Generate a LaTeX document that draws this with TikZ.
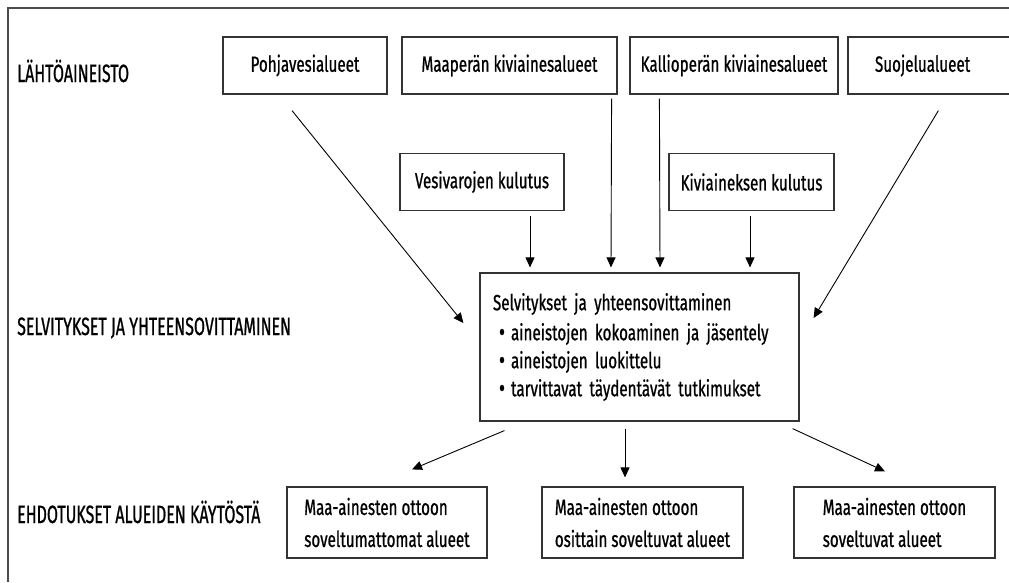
\documentclass[tikz,border=0pt]{standalone}
\usepackage{fontspec}
\setmainfont{Fira Sans}[FakeStretch=0.69,FakeBold=0.8]
\newfontfamily\otsikko{Fira Sans}[FakeStretch=0.64,FakeBold=0.8]
\usetikzlibrary{calc,arrows.meta}

\newcommand\kohta{\hspace*{6pt}\raisebox{-1pt}{\fontsize{27}{28}\selectfont\textbullet}\hspace{6pt}}

\begin{document}
\begin{tikzpicture}[x=1pt,y=-1pt,
  boite/.style={draw=black!80,line width=1.2pt,inner sep=0pt,minimum height=57pt,
    font=\fontsize{22}{28}\selectfont},
  alaboite/.style={boite,minimum width=201pt,minimum height=71pt,align=left,
    font=\fontsize{22}{32}\selectfont},
  titre/.style={anchor=base west,inner sep=0pt,font=\otsikko\fontsize{25}{27}\selectfont},
  fleche/.style={-{Triangle[length=10pt,width=9pt]},line width=0.9pt}]
  \useasboundingbox (0,0) rectangle (1009,582);
  \clip (0,0) rectangle (1009,582);
  \draw[line width=1.6pt,black!70] (8,582) -- (8,8) -- (1009,8);

  \node[titre] (lahto)  at (17, 82) {LÄHTÖAINEISTO};
  \node[titre] (selvit) at (17,335) {SELVITYKSET JA YHTEENSOVITTAMINEN};
  \node[titre] (ehdot)  at (17,523) {EHDOTUKSET ALUEIDEN KÄYTÖSTÄ};

  \node[boite,minimum width=164pt] (pohja)  at (305,  65.5) {Pohjavesialueet};
  \node[boite,minimum width=215pt] (maap)   at (509.5,65.5) {Maaperän kiviainesalueet};
  \node[boite,minimum width=208pt] (kallio) at (734,  65.5) {Kallioperän kiviainesalueet};
  \node[boite,text width=118pt,inner xsep=27pt,align=left] (suoj) at (934,65.5) {Suojelualueet};
  \node[boite,minimum width=164pt] (vesi)   at (482,  182)  {Vesivarojen kulutus};
  \node[boite,minimum width=165pt] (kivi)   at (751.5,182)  {Kiviaineksen kulutus};
  \node[boite,text width=293pt,inner xsep=13pt,minimum height=148pt,align=left] (selv) at (639.5,347)
    {Selvitykset ja yhteensovittaminen\\[2pt]
     \kohta aineistojen kokoaminen ja jäsentely\\
     \kohta aineistojen luokittelu\\
     \kohta tarvittavat täydentävät tutkimukset};
  \node[alaboite,minimum width=200pt] (sopimaton) at (387,  522.5) {Maa-ainesten ottoon\\soveltumattomat alueet};
  \node[alaboite] (osin)   at (642.5,522.5) {Maa-ainesten ottoon\\osittain soveltuvat alueet};
  \node[alaboite] (sopiva) at (894.5,522.5) {Maa-ainesten ottoon\\soveltuvat alueet};

  \draw[fleche] ($(pohja.south)+(-13,16)$)     -- ($(selv.west)+(-16,-24)$);
  \draw[fleche] ($(maap.south east)+(-6,4)$)   -- ($(selv.north)+(-28.5,-5)$);
  \draw[fleche] ($(kallio.south west)+(30,4)$) -- ($(selv.north)+(20.5,-5)$);
  \draw[fleche] ($(suoj.south west)+(91,16)$)  -- ($(selv.east)+(14,-29)$);
  \draw[fleche] ($(vesi.south)+(48,5)$)        -- ($(selv.north)+(-109.5,-5)$);
  \draw[fleche] ($(kivi.south)+(-1.5,5)$)      -- ($(selv.north)+(110.5,-5)$);
  \draw[fleche] ($(selv.south west)+(25,9)$)   -- ($(sopimaton.north)+(25,-17)$);
  \draw[fleche] ($(selv.south)+(-14.5,7)$)     -- ($(osin.north)+(-17.5,-9)$);
  \draw[fleche] ($(selv.south east)+(-7,7)$)   -- ($(sopiva.north)+(-9.5,-15)$);
\end{tikzpicture}
\end{document}
